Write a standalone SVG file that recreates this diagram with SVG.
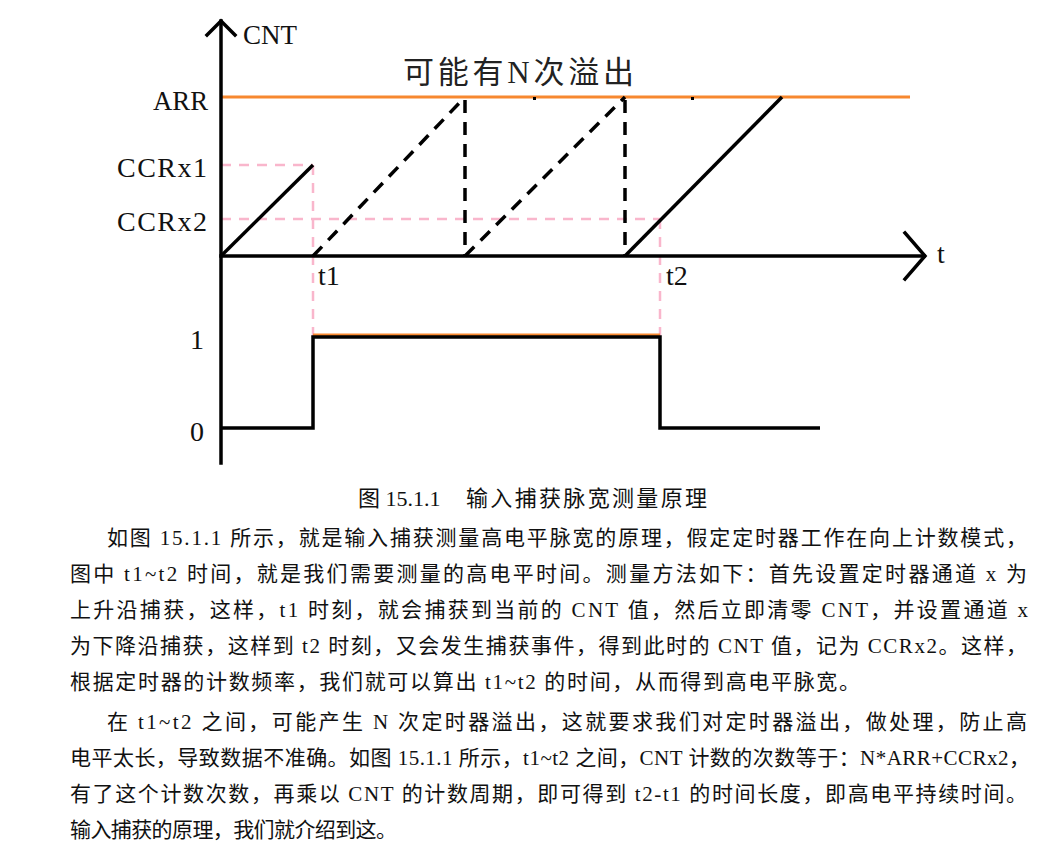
<svg xmlns="http://www.w3.org/2000/svg" width="1047" height="847" viewBox="0 0 1047 847">
<style>
.ax{stroke:#000;stroke-width:3.5;fill:none;stroke-linecap:square}
.sl{stroke:#000;stroke-width:3.5;fill:none}
.dl{stroke:#000;stroke-width:3.5;fill:none;stroke-dasharray:13 9}
.pk{stroke:#F9B6CC;stroke-width:2.5;fill:none;stroke-dasharray:10 8}
.or{stroke:#F7882F;stroke-width:3;fill:none}
.lb{font-family:"Liberation Serif","Noto Sans CJK SC",serif;font-size:28px;fill:#111}
.cj{font-family:"Liberation Serif","Noto Sans CJK SC",serif;font-size:31px;fill:#222}
.tx{font-family:"Liberation Serif","Noto Sans CJK SC",serif;font-size:21px;fill:#111}
</style>
<rect width="1047" height="847" fill="#fff"/>
<g id="guides">
<path class="pk" d="M221 165H313M313 165V337M221 219H660M660 219V337"/>
</g>
<g id="arr-line">
<path class="or" d="M221 97H910"/>
<path class="or" d="M313 335H660"/>
<rect x="533" y="97" width="3" height="3" fill="#000"/>
<rect x="691" y="97" width="3" height="3" fill="#000"/>
</g>
<g id="axes">
<path class="ax" d="M221 21V463"/>
<path class="ax" d="M207 35L221 21L235 35"/>
<path class="ax" d="M221 256H924"/>
<path class="ax" d="M905 233L925 256L905 279"/>
</g>
<g id="connectors">
<path class="sl" d="M221 256L313 165"/>
<path class="dl" d="M313 256L465 97"/>
<path class="dl" d="M465 100V256"/>
<path class="dl" d="M465 256L625 97"/>
<path class="dl" d="M625 100V256"/>
<path class="sl" d="M625 256L782 97"/>
<path class="sl" d="M221 428H313V337H660V428H820"/>
</g>
<g id="labels">
<text class="lb" x="243" y="44" textLength="54" lengthAdjust="spacingAndGlyphs">CNT</text>
<text class="lb" x="153" y="110" textLength="55" lengthAdjust="spacingAndGlyphs">ARR</text>
<text class="lb" x="117" y="177" textLength="90" lengthAdjust="spacing">CCRx1</text>
<text class="lb" x="117" y="231" textLength="90" lengthAdjust="spacing">CCRx2</text>
<text class="lb" x="937" y="263">t</text>
<text class="lb" x="318" y="285">t1</text>
<text class="lb" x="666" y="285">t2</text>
<text class="lb" x="190" y="349">1</text>
<text class="lb" x="190" y="441">0</text>
<text class="cj" x="403" y="83" textLength="231" lengthAdjust="spacing">可能有N次溢出</text>
</g>
<g id="caption">
<text class="tx" x="358" y="506" style="font-size:22px"><tspan>图 15.1.1</tspan><tspan x="466" textLength="241" lengthAdjust="spacing">输入捕获脉宽测量原理</tspan></text>
</g>
<g id="body">
<text class="tx" x="107" y="545" textLength="920" lengthAdjust="spacing">如图 15.1.1 所示，就是输入捕获测量高电平脉宽的原理，假定定时器工作在向上计数模式，</text>
<text class="tx" x="70" y="581" textLength="957" lengthAdjust="spacing">图中 t1~t2 时间，就是我们需要测量的高电平时间。测量方法如下：首先设置定时器通道 x 为</text>
<text class="tx" x="70" y="617" textLength="958" lengthAdjust="spacing">上升沿捕获，这样，t1 时刻，就会捕获到当前的 CNT 值，然后立即清零 CNT，并设置通道 x</text>
<text class="tx" x="70" y="653" textLength="957" lengthAdjust="spacing">为下降沿捕获，这样到 t2 时刻，又会发生捕获事件，得到此时的 CNT 值，记为 CCRx2。这样，</text>
<text class="tx" x="70" y="689" textLength="790" lengthAdjust="spacing">根据定时器的计数频率，我们就可以算出 t1~t2 的时间，从而得到高电平脉宽。</text>
<text class="tx" x="107" y="729" textLength="920" lengthAdjust="spacing">在 t1~t2 之间，可能产生 N 次定时器溢出，这就要求我们对定时器溢出，做处理，防止高</text>
<text class="tx" x="70" y="765" textLength="960" lengthAdjust="spacing">电平太长，导致数据不准确。如图 15.1.1 所示，t1~t2 之间，CNT 计数的次数等于：N*ARR+CCRx2，</text>
<text class="tx" x="70" y="801" textLength="957" lengthAdjust="spacing">有了这个计数次数，再乘以 CNT 的计数周期，即可得到 t2-t1 的时间长度，即高电平持续时间。</text>
<text class="tx" x="70" y="837" textLength="327" lengthAdjust="spacing">输入捕获的原理，我们就介绍到这。</text>
</g>
</svg>
